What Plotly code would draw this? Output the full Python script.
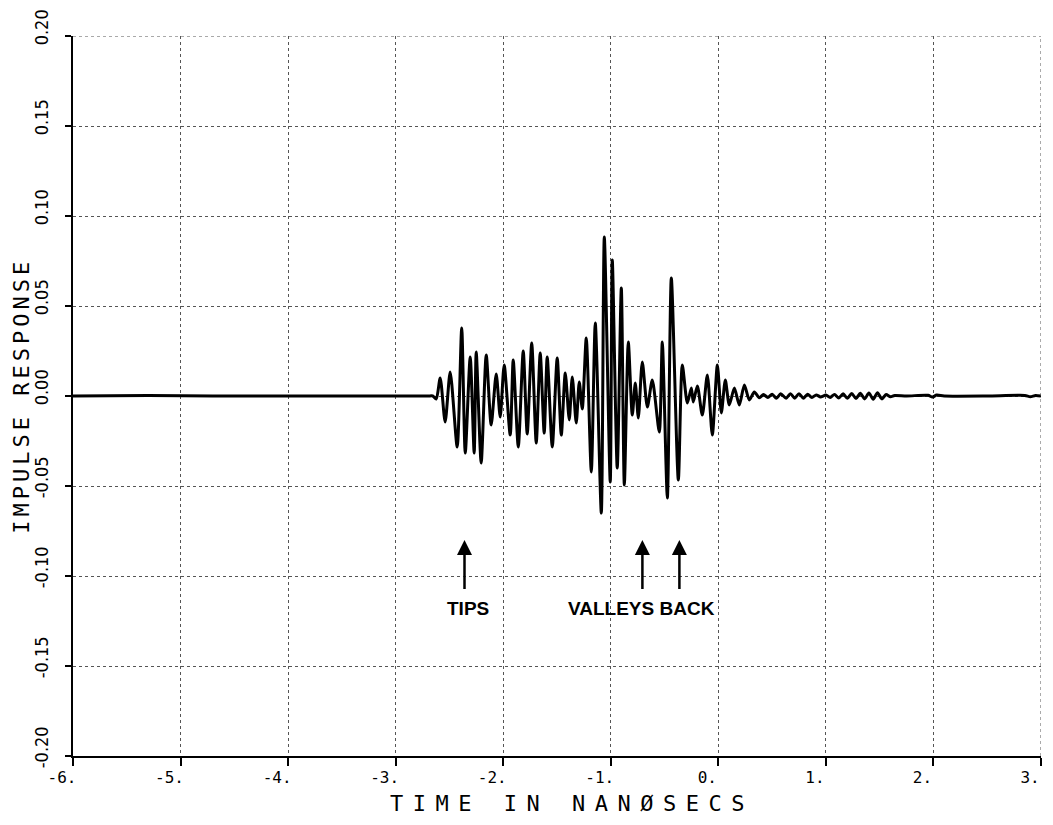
import plotly.graph_objects as go

# ---- data ----
# quiet lead-in
t_lead = [-6.0, -5.3, -4.7, -3.5, -2.70, -2.655]
v_lead = [0.0, 0.0003, 0.0, 0.0, 0.0, 0.0]

# main burst (extrema)
t_burst = [-2.623, -2.586, -2.540, -2.493, -2.428, -2.386, -2.353, -2.307, -2.270, -2.251,
           -2.205, -2.158, -2.112, -2.065, -2.028, -1.991, -1.935, -1.907, -1.860, -1.814,
           -1.777, -1.735, -1.693, -1.656, -1.619, -1.591, -1.544, -1.498, -1.460, -1.423,
           -1.386, -1.358, -1.321, -1.293, -1.265, -1.228, -1.181, -1.144, -1.088, -1.060,
           -1.005, -0.986, -0.940, -0.902, -0.874, -0.837, -0.800, -0.772, -0.744, -0.707,
           -0.660, -0.614, -0.549, -0.521, -0.474, -0.437, -0.372, -0.335, -0.288, -0.251,
           -0.233, -0.195, -0.149, -0.102, -0.056, -0.009, 0.028, 0.065, 0.102, 0.149,
           0.195, 0.242, 0.288, 0.335, 0.381]
v_burst = [-0.0017, 0.0100, -0.0144, 0.0133, -0.0283, 0.0378, -0.0317, 0.0217, -0.0317, 0.0244,
           -0.0372, 0.0228, -0.0161, 0.0122, -0.0117, 0.0172, -0.0217, 0.0200, -0.0283, 0.0250,
           -0.0211, 0.0294, -0.0261, 0.0239, -0.0206, 0.0217, -0.0283, 0.0211, -0.0217, 0.0128,
           -0.0133, 0.0106, -0.0150, 0.0078, -0.0072, 0.0322, -0.0422, 0.0406, -0.0650, 0.0883,
           -0.0478, 0.0756, -0.0400, 0.0600, -0.0494, 0.0300, -0.0106, 0.0072, -0.0122, 0.0189,
           -0.0061, 0.0089, -0.0200, 0.0300, -0.0567, 0.0656, -0.0467, 0.0172, -0.0039, 0.0044,
           -0.0033, 0.0056, -0.0106, 0.0117, -0.0217, 0.0172, -0.0094, 0.0089, -0.0050, 0.0044,
           -0.0050, 0.0061, -0.0022, 0.0022, -0.0010]

# small ripples after the burst
t_tail = [0.42, 0.46, 0.50, 0.54, 0.58, 0.63, 0.67, 0.71, 0.75, 0.79, 0.83, 0.87, 0.91, 0.95,
          1.00, 1.04, 1.08, 1.12, 1.16, 1.20, 1.24, 1.28, 1.32, 1.36, 1.40, 1.44, 1.48, 1.52,
          1.56, 1.60, 1.64, 1.75, 1.95, 1.99, 2.03, 2.10, 2.50, 2.85, 2.90, 2.95, 3.0]
v_tail = [0.0008, -0.0008, 0.0010, -0.0012, 0.0012, -0.0012, 0.0013, -0.0012, 0.0013, -0.0012,
          0.0010, -0.0008, 0.0006, -0.0005, 0.0005, -0.0008, 0.0009, -0.0011, 0.0012, -0.0013,
          0.0014, -0.0014, 0.0015, -0.0016, 0.0017, -0.0018, 0.0018, -0.0016, 0.0008, -0.0004,
          0.0003, 0.0, 0.0004, -0.0006, 0.0005, 0.0, 0.0, 0.0003, -0.0004, 0.0003, 0.0]

x_ticks = [-6, -5, -4, -3, -2, -1, 0, 1, 2, 3]
x_tick_text = ["-6.", "-5.", "-4.", "-3.", "-2.", "-1.", "0.", "1.", "2.", "3."]
y_ticks = [-0.20, -0.15, -0.10, -0.05, 0.00, 0.05, 0.10, 0.15, 0.20]
y_tick_text = ["-0.20", "-0.15", "-0.10", "-0.05", "0.00", "0.05", "0.10", "0.15", "0.20"]

x_title = "TIME IN NANØSECS"
y_title = "IMPULSE RESPONSE"

arrow_x = [-2.36, -0.706, -0.362]
arrow_tip_y = -0.080
arrow_tail_y = -0.108
label_text = ["TIPS", "VALLEYS BACK"]
label_x = [-2.33, -0.71]
label_y = -0.118

t_all = t_lead + t_burst + t_tail
v_all = v_lead + v_burst + v_tail

mono = "DejaVu Sans Mono"
narrow = "Liberation Sans Narrow, DejaVu Sans Condensed, Liberation Sans"
grid_col = "#555"

fig = go.Figure()
fig.add_trace(go.Scatter(x=t_all, y=v_all, mode="lines",
                         line=dict(color="black", width=3, shape="spline", smoothing=0.7),
                         showlegend=False, hoverinfo="skip"))

for ax_ in arrow_x:
    fig.add_annotation(x=ax_, y=arrow_tip_y, ax=ax_, ay=arrow_tail_y, axref="x", ayref="y",
                       xref="x", yref="y", text="", showarrow=True, arrowhead=2,
                       arrowsize=1.2, arrowwidth=2.5, arrowcolor="black")
for txt, lx in zip(label_text, label_x):
    fig.add_annotation(x=lx, y=label_y, text="<b>" + txt + "</b>", showarrow=False,
                       xref="x", yref="y",
                       font=dict(family="Liberation Sans", size=19, color="black"))

# x-axis title, placed as in the reference (slightly right of centre)
fig.add_annotation(x=0.516, y=-0.066, xref="paper", yref="paper", showarrow=False,
                   xanchor="center", yanchor="middle",
                   text='<span style="letter-spacing:9.5px">' + x_title + '</span>',
                   font=dict(family=mono, size=22, color="black"))

# y-axis title
fig.add_annotation(x=-0.054, y=0.5, xref="paper", yref="paper", showarrow=False,
                   xanchor="center", yanchor="middle", textangle=-90,
                   text='<span style="letter-spacing:4px">' + y_title + '</span>',
                   font=dict(family=mono, size=22, color="black"))

# dotted frame lines on the top and right (grid lines at the range edges)
fig.add_shape(type="line", xref="x", yref="y", x0=x_ticks[0], x1=x_ticks[-1],
              y0=y_ticks[-1], y1=y_ticks[-1], line=dict(color=grid_col, width=1, dash="dot"))
fig.add_shape(type="line", xref="x", yref="y", x0=x_ticks[-1], x1=x_ticks[-1],
              y0=y_ticks[0], y1=y_ticks[-1], line=dict(color=grid_col, width=1, dash="dot"))

fig.update_layout(
    width=1045, height=817,
    margin=dict(l=65, r=12, t=28, b=69),
    paper_bgcolor="white", plot_bgcolor="white",
    font=dict(family=mono, color="black"),
    xaxis=dict(range=[-6, 3], tickvals=x_ticks, ticktext=x_tick_text, automargin=False,
               showgrid=True, gridcolor=grid_col, griddash="dot", gridwidth=1,
               zeroline=False, showline=True, linecolor="black", linewidth=2,
               ticks="outside", ticklen=8, tickwidth=2, tickcolor="black",
               ticklabelshift=-11, ticklabeloverflow="allow", ticklabelstandoff=-2,
               tickfont=dict(family=mono, size=16, color="black")),
    yaxis=dict(range=[-0.20, 0.20], tickvals=y_ticks, ticktext=y_tick_text, automargin=False,
               showgrid=True, gridcolor=grid_col, griddash="dot", gridwidth=1,
               zeroline=False, showline=True, linecolor="black", linewidth=2,
               ticks="outside", ticklen=6, tickwidth=2, tickcolor="black",
               tickangle=-90, ticklabelshift=-6, ticklabelstandoff=10,
               ticklabeloverflow="allow",
               tickfont=dict(family=narrow, size=18, color="black")),
)

fig.write_html("out.html")
